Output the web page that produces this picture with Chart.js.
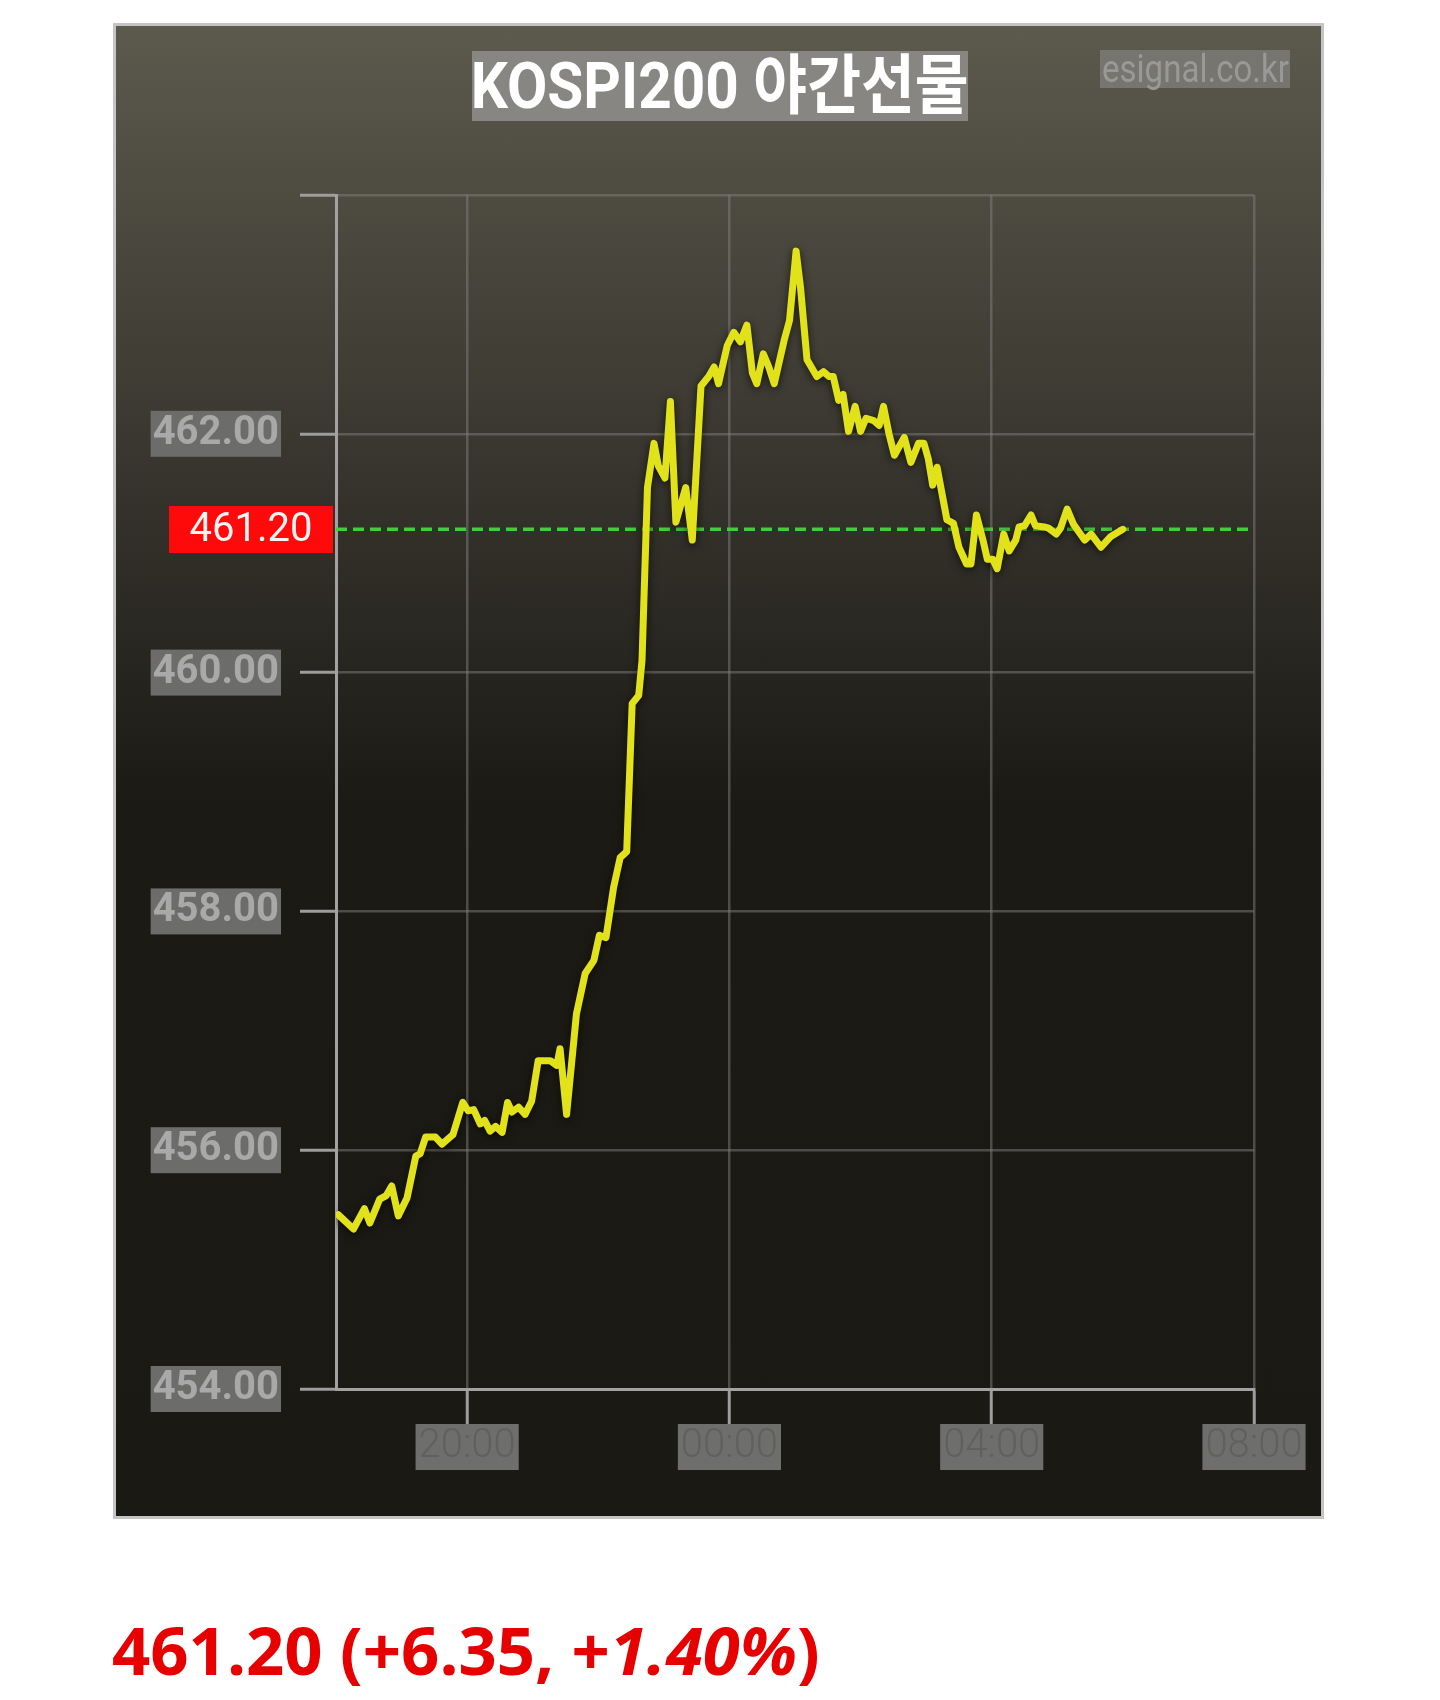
<!DOCTYPE html>
<html>
<head>
<meta charset="utf-8">
<script src="https://cdn.jsdelivr.net/npm/chart.js@4.4.1/dist/chart.umd.min.js"></script>
<style>
html,body{margin:0;padding:0;background:#ffffff;}
body{width:1440px;height:1700px;position:relative;overflow:hidden;}
#frame{position:absolute;left:113px;top:23px;width:1211px;height:1496px;box-sizing:border-box;border:3px solid #c4c4c4;background:linear-gradient(to bottom,#5c594d 0%,#1b1a15 52%,#1a1914 100%);}
#c{position:absolute;left:0;top:0;}
#title{position:absolute;left:472px;top:51px;width:496px;height:70px;background:#878682;display:flex;justify-content:center;align-items:center;}
#title span{font-family:Roboto,"Noto Sans CJK KR",sans-serif;font-weight:700;font-size:65px;line-height:70px;color:#ffffff;white-space:nowrap;transform:scaleX(0.9);}
#mark{position:absolute;left:1100px;top:50px;width:190px;height:38px;background:#767570;display:flex;justify-content:center;align-items:center;}
#mark span{font-family:Roboto,sans-serif;font-weight:400;font-size:38px;line-height:38px;color:#999998;white-space:nowrap;transform:scaleX(0.87);}
#quote{position:absolute;left:112px;top:1615px;font-family:"Open Sans",sans-serif;font-weight:700;font-size:67px;line-height:68px;color:#e60000;white-space:nowrap;}
</style>
</head>
<body>
<div id="frame"><canvas id="c" width="1205" height="1490"></canvas></div>
<div id="title"><span>KOSPI200 야간선물</span></div>
<div id="mark"><span>esignal.co.kr</span></div>
<div id="quote"></div>
<script>
// ---- data ----
const times = [
 "18:02","18:16","18:26","18:31","18:40","18:46","18:51","18:57","19:05","19:13",
 "19:17","19:22","19:31","19:37","19:47","19:56","20:01","20:06","20:12","20:16",
 "20:21","20:26","20:32","20:37","20:41","20:47","20:53","20:59","21:05","21:16",
 "21:22","21:25","21:31","21:40","21:48","21:56","22:01","22:07","22:14","22:20",
 "22:26","22:31","22:37","22:40","22:45","22:51","22:55","23:01","23:06","23:11",
 "23:20","23:26","23:34","23:41","23:46","23:50","23:58","00:04","00:10","00:16",
 "00:21","00:25","00:31","00:36","00:41","00:50","00:55","01:01","01:05","01:11",
 "01:20","01:26","01:31","01:35","01:40","01:44","01:49","01:55","02:00","02:05",
 "02:12","02:17","02:21","02:26","02:31","02:40","02:46","02:53","02:58","03:02",
 "03:06","03:10","03:19","03:25","03:30","03:37","03:41","03:46","03:52","03:56",
 "04:01","04:05","04:11","04:16","04:22","04:25","04:30","04:36","04:40","04:48",
 "04:52","04:59","05:03","05:09","05:15","05:25","05:31","05:40","05:49","06:00"
];
const prices = [
 455.46,455.34,455.51,455.39,455.59,455.62,455.70,455.45,455.60,455.95,
 455.97,456.11,456.11,456.05,456.13,456.40,456.33,456.34,456.22,456.25,
 456.16,456.20,456.15,456.40,456.32,456.36,456.30,456.41,456.75,456.75,
 456.71,456.85,456.30,457.14,457.48,457.59,457.80,457.78,458.20,458.45,
 458.50,459.74,459.81,460.10,461.55,461.92,461.73,461.63,462.27,461.26,
 461.55,461.11,462.40,462.48,462.56,462.42,462.74,462.85,462.77,462.91,
 462.51,462.42,462.67,462.56,462.42,462.78,462.95,463.53,463.23,462.62,
 462.48,462.52,462.48,462.48,462.28,462.33,462.02,462.23,462.02,462.13,
 462.11,462.07,462.23,462.00,461.82,461.97,461.76,461.92,461.92,461.79,
 461.57,461.72,461.28,461.25,461.05,460.91,460.91,461.32,461.11,460.95,
 460.95,460.87,461.16,461.02,461.11,461.22,461.23,461.32,461.23,461.22,
 461.21,461.16,461.21,461.37,461.24,461.11,461.16,461.05,461.14,461.20
];
const currentPrice = 461.20;
const priceChange = 6.35;
const pctChange = 1.40;
const yTicks = [454, 456, 458, 460, 462, 464];
const xTickTimes = ["20:00", "00:00", "04:00", "08:00"];
const sessionStart = "18:00";
const sessionEndAxis = "08:00";

// ---- helpers ----
function hoursFromStart(t) {
  const [h, m] = t.split(":").map(Number);
  const [sh, sm] = sessionStart.split(":").map(Number);
  let v = h + m / 60;
  const s = sh + sm / 60;
  if (v < s) v += 24;
  return v - s;
}
const xTickValues = xTickTimes.map(hoursFromStart).map((v, i) => (i > 0 && v === 0 ? 24 : v));
const xMax = hoursFromStart(sessionEndAxis);

document.getElementById("quote").innerHTML =
  currentPrice.toFixed(2) + " (+" + priceChange.toFixed(2) + ", +<i>" + pctChange.toFixed(2) + "%</i>)";

const glow = {
  id: "glow",
  beforeDatasetDraw(chart, args) {
    if (args.index === 0) {
      const c = chart.ctx;
      c.save();
      c.shadowColor = "rgba(0,0,0,0.65)";
      c.shadowBlur = 8;
      c.shadowOffsetY = 2;
    }
  },
  afterDatasetDraw(chart, args) {
    if (args.index === 0) chart.ctx.restore();
  }
};

const priceTag = {
  id: "priceTag",
  afterDraw(chart) {
    const { ctx, chartArea, scales } = chart;
    const py = scales.y.getPixelForValue(currentPrice);
    const w = 164, h = 47, right = chartArea.left - 3;
    ctx.save();
    ctx.fillStyle = "#ff0a0a";
    ctx.fillRect(right - w, Math.round(py - h / 2), w, h);
    ctx.fillStyle = "#f4f4f4";
    ctx.font = "400 40px Roboto";
    ctx.textAlign = "center";
    ctx.textBaseline = "middle";
    ctx.fillText(currentPrice.toFixed(2), right - w / 2, py + 2);
    ctx.restore();
  }
};

const gridCommon = {
  color: "rgba(128,128,128,0.5)",
  lineWidth: 2.5,
  tickColor: "#9d9d9d",
  tickWidth: 3
};

new Chart(document.getElementById("c"), {
  type: "line",
  data: {
    datasets: [
      {
        data: times.map((t, i) => ({ x: hoursFromStart(t), y: prices[i] })),
        borderColor: "#e2e21a",
        borderWidth: 7,
        pointRadius: 0,
        tension: 0,
        borderJoinStyle: "round",
        borderCapStyle: "round",
        fill: false
      },
      {
        data: [{ x: 0, y: currentPrice }, { x: xMax, y: currentPrice }],
        borderColor: "#44cc3a",
        borderWidth: 3.5,
        borderDash: [11, 6],
        pointRadius: 0,
        fill: false
      }
    ]
  },
  options: {
    responsive: false,
    animation: false,
    devicePixelRatio: 1,
    layout: { padding: { left: 0, top: 169, right: 67, bottom: 0 } },
    plugins: { legend: { display: false }, tooltip: { enabled: false } },
    scales: {
      x: {
        type: "linear",
        min: 0,
        max: xMax,
        afterBuildTicks: s => { s.ticks = xTickValues.map(v => ({ value: v })); },
        afterFit: s => { s.height = 127; },
        grid: Object.assign({}, gridCommon, { tickLength: 35 }),
        border: { color: "#a2a2a2", width: 3 },
        ticks: {
          autoSkip: false,
          maxRotation: 0,
          minRotation: 0,
          padding: 0,
          color: "#60605e",
          font: { family: "Roboto", size: 40, weight: "300", lineHeight: 1.15 },
          showLabelBackdrop: true,
          backdropColor: "#6e6e6c",
          backdropPadding: { x: 3, y: 0 },
          callback: v => { const i = xTickValues.indexOf(v); return i >= 0 ? xTickTimes[i] : ""; }
        }
      },
      y: {
        min: yTicks[0],
        max: yTicks[yTicks.length - 1],
        afterBuildTicks: s => { s.ticks = yTicks.map(v => ({ value: v })); },
        afterFit: s => { s.width = 220; },
        grid: Object.assign({}, gridCommon, { tickLength: 36 }),
        border: { color: "#a2a2a2", width: 3 },
        ticks: {
          padding: 21,
          color: "#a9a9a9",
          font: { family: "Roboto", size: 40, weight: "bold", lineHeight: 1.15 },
          showLabelBackdrop: c => c.tick && c.tick.value !== yTicks[yTicks.length - 1],
          backdropColor: "#6c6c6a",
          backdropPadding: { x: 2, y: 0 },
          callback: v => (v === yTicks[yTicks.length - 1] ? "" : v.toFixed(2))
        }
      }
    }
  },
  plugins: [glow, priceTag]
});
</script>
</body>
</html>
